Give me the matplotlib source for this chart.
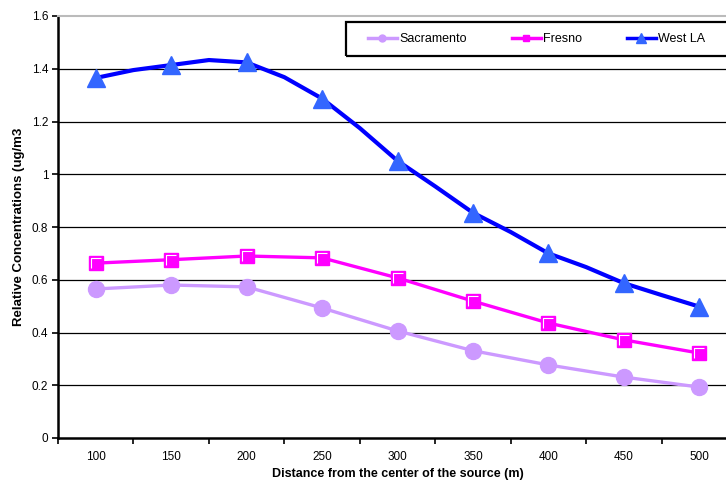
import numpy as np
import matplotlib
matplotlib.use("Agg")
import matplotlib.pyplot as plt
from matplotlib.lines import Line2D
from matplotlib.patches import Rectangle
from matplotlib.path import Path

plt.rcParams['font.family'] = ['Liberation Sans', 'DejaVu Sans']

# distances (m) and readings
distance = [100, 150, 200, 250, 300, 350, 400, 450, 500]
sacramento = [0.565, 0.580, 0.573, 0.493, 0.406, 0.331, 0.277, 0.231, 0.193]
fresno = [0.663, 0.676, 0.690, 0.683, 0.607, 0.519, 0.436, 0.372, 0.322]
west_la = [1.365, 1.414, 1.424, 1.287, 1.051, 0.854, 0.700, 0.587, 0.498]

# West LA curve is drawn from a finer set of readings (every 25 m)
west_la_fine_x = [100, 125, 150, 175, 200, 225, 250, 275, 300, 325, 350, 375, 400, 425, 450, 475, 500]
west_la_fine_y = [1.365, 1.395, 1.414, 1.433, 1.424, 1.368, 1.287, 1.175, 1.051, 0.954, 0.854, 0.781,
                  0.700, 0.648, 0.587, 0.542, 0.498]

y_ticks = [0, 0.2, 0.4, 0.6, 0.8, 1.0, 1.2, 1.4, 1.6]
y_labels = ['0', '0.2', '0.4', '0.6', '0.8', '1', '1.2', '1.4', '1.6']

c_sac = '#CC99FF'
c_fre = '#FF00FF'
c_wla = '#0000FF'
c_wla_m = '#3366FF'

fig = plt.figure(figsize=(7.26, 4.8), dpi=100)
ax = fig.add_axes([58 / 726, 42 / 480, (737 - 58) / 726, (438 - 16) / 480])

for y in y_ticks[1:-1]:
    ax.axhline(y, color='black', lw=0.9, zorder=1)

ax.plot(distance, sacramento, color=c_sac, lw=2.4, marker='o', ms=11.5,
        mfc=c_sac, mec=c_sac, zorder=3)

ax.plot(distance, fresno, color=c_fre, lw=2.4, marker='s', ms=10, mfc=c_fre,
        mec=c_fre, mew=1, zorder=4)
corner = Path([(-1, -1), (-1, 1), (1, 1)], [Path.MOVETO, Path.LINETO, Path.LINETO])
ax.plot(distance, fresno, ls='none', marker=corner, ms=7.5, mec='white',
        mew=0.8, fillstyle='none', zorder=5)

ax.plot(west_la_fine_x, west_la_fine_y, color=c_wla, lw=3.0, zorder=6)
ax.plot(distance, west_la, ls='none', marker='^', ms=13.5, mfc=c_wla_m,
        mec=c_wla_m, zorder=7)

ax.set_xlim(75, 525)
ax.set_ylim(0, 1.6)
ax.set_xticks(distance)
ax.set_xticklabels([str(d) for d in distance])
ax.set_xticks(np.arange(75, 526, 50), minor=True)
ax.tick_params(axis='x', which='major', length=0, pad=9, labelsize=8.5)
ax.tick_params(axis='x', which='minor', length=4, width=1.2, direction='out')
ax.set_yticks(y_ticks)
ax.set_yticklabels(y_labels)
ax.tick_params(axis='y', length=4, width=1.2, direction='out', labelsize=8.5, pad=3)

ax.spines['left'].set_linewidth(1.8)
ax.spines['bottom'].set_linewidth(1.8)
ax.spines['top'].set_color('#BBBBBB')
ax.spines['top'].set_linewidth(1.5)
ax.spines['right'].set_visible(False)

ax.set_xlabel('Distance from the center of the source (m)', fontsize=9, fontweight='bold', labelpad=4)
ax.set_ylabel('Relative Concentrations (ug/m3', fontsize=9.5, fontweight='bold', labelpad=5)

handles = [
    Line2D([], [], color=c_sac, lw=2.5, marker='o', ms=5, mfc=c_sac, mec=c_sac),
    Line2D([], [], color=c_fre, lw=2.5, marker='s', ms=5, mfc=c_fre, mec=c_fre),
    Line2D([], [], color=c_wla, lw=2.5, marker='^', ms=7, mfc=c_wla_m, mec=c_wla_m),
]
fig.legend(handles, ['Sacramento', 'Fresno', 'West LA'], loc='center left',
           bbox_to_anchor=(368 / 726, 1 - 39 / 480), ncol=3, frameon=False,
           fontsize=9, handlelength=2.3, handletextpad=0.2, columnspacing=3.6,
           borderpad=0, borderaxespad=0)
fig.patches.append(Rectangle((346 / 726, 1 - 56 / 480), 400 / 726, 34 / 480,
                             transform=fig.transFigure, fill=False, ec='black', lw=1.6))

fig.savefig('out.png', dpi=100)
